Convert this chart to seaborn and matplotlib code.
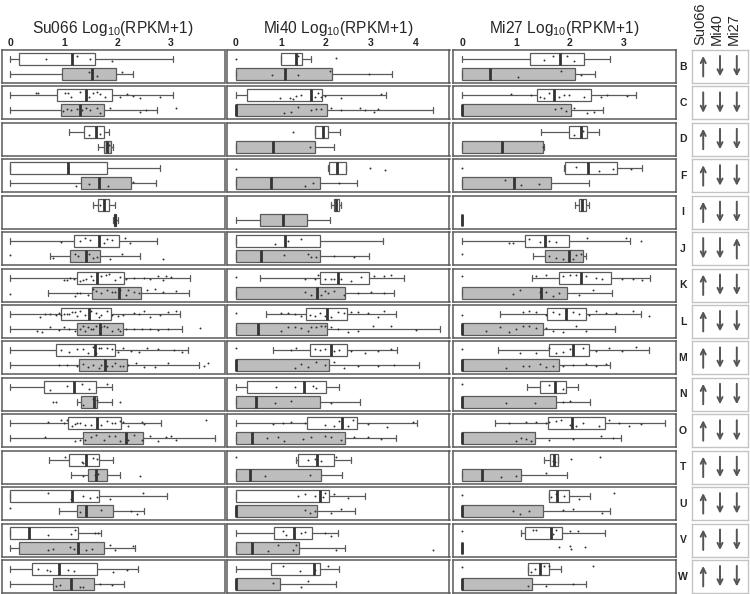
import numpy as np
import pandas as pd
import matplotlib
matplotlib.use("Agg")
import matplotlib.pyplot as plt
import seaborn as sns

# ---------------- data ----------------
rows = ['B', 'C', 'D', 'F', 'I', 'J', 'K', 'L', 'M', 'N', 'O', 'T', 'U', 'V', 'W']
samples = ['Su066', 'Mi40', 'Mi27']
tick_values = [[0, 1, 2, 3], [0, 1, 2, 3, 4], [0, 1, 2, 3]]

# five-number summaries per row: [lower whisker, Q1, median, Q3, upper whisker]
su066_white = [[0, 0.17, 1.16, 1.58, 3.03], [0, 0.88, 1.41, 1.90, 3.03], [1.09, 1.37, 1.59, 1.74, 1.85],
               [0, 0, 1.08, 1.80, 2.79], [1.54, 1.64, 1.75, 1.85, 1.95], [0, 1.18, 1.65, 2.03, 2.74],
               [0, 1.24, 1.62, 2.12, 3.35], [0, 0.95, 1.47, 1.87, 3.17], [0, 0.85, 1.58, 1.95, 3.32],
               [0, 0.63, 1.19, 1.60, 1.90], [0, 1.08, 1.61, 2.06, 2.81], [0.73, 1.10, 1.42, 1.65, 1.92],
               [0, 0, 1.16, 1.65, 2.92], [0, 0, 0.35, 1.27, 1.69], [0, 0.40, 0.91, 1.62, 2.39]]
su066_grey = [[0, 0.96, 1.53, 1.97, 2.29], [0, 0.95, 1.30, 1.74, 2.73], [1.64, 1.75, 1.81, 1.87, 1.92],
              [0, 1.31, 1.65, 2.25, 2.71], [1.92, 1.94, 1.96, 1.98, 2.00], [0.75, 1.11, 1.41, 1.67, 2.42],
              [0.71, 1.52, 2.03, 2.44, 3.34], [0, 1.25, 1.67, 2.10, 3.21], [0, 1.28, 1.77, 2.18, 3.52],
              [1.25, 1.32, 1.57, 1.61, 1.90], [0, 1.36, 2.15, 2.48, 3.82], [1.14, 1.45, 1.60, 1.81, 2.05],
              [0.91, 1.25, 1.41, 1.92, 2.49], [0, 0.17, 1.27, 1.74, 2.33], [0, 0.80, 1.13, 1.56, 2.12]]
mi40_white = [[1.01, 1.01, 1.33, 1.47, 1.66], [0, 0.25, 1.68, 1.92, 3.34], [1.76, 1.76, 1.94, 2.04, 2.31],
              [2.04, 2.06, 2.24, 2.44, 2.44], [2.12, 2.17, 2.23, 2.29, 2.34], [0, 0, 1.10, 1.88, 3.26],
              [0.53, 1.87, 2.27, 2.97, 3.74], [0.66, 1.56, 2.02, 2.46, 3.57], [0.83, 1.64, 2.12, 2.46, 3.58],
              [0, 0.24, 1.51, 2.01, 2.30], [0, 1.58, 2.35, 2.69, 4.02], [1.34, 1.39, 1.80, 2.18, 2.56],
              [0, 0, 1.87, 2.08, 2.86], [0, 0.85, 1.29, 1.69, 2.27], [0, 0.79, 1.73, 1.88, 2.29]]
mi40_grey = [[0, 0, 1.10, 2.13, 3.46], [0, 0, 0, 2.02, 4.39], [0, 0, 0.83, 1.76, 2.19],
             [0, 0, 0.77, 1.86, 2.69], [0, 0.53, 1.05, 1.57, 2.09], [0, 0, 0.55, 1.87, 2.97],
             [0, 0, 1.80, 2.43, 3.52], [0, 0, 0.48, 2.02, 4.54], [0, 0, 0, 2.06, 4.07],
             [0, 0, 0.44, 1.87, 2.76], [0, 0, 0.35, 2.43, 3.57], [0, 0, 0.31, 1.90, 2.35],
             [0, 0, 0, 1.80, 2.65], [0, 0, 0.36, 1.40, 2.43], [0, 0, 0, 0.97, 2.23]]
mi27_white = [[0, 1.27, 1.82, 2.26, 2.75], [0, 1.40, 1.70, 2.40, 3.23], [1.47, 1.98, 2.21, 2.33, 2.55],
              [1.90, 1.92, 2.34, 2.89, 3.34], [2.10, 2.17, 2.23, 2.30, 2.36], [0, 1.17, 1.55, 1.98, 3.12],
              [1.30, 1.81, 2.22, 2.77, 3.49], [0.71, 1.58, 1.94, 2.31, 3.32], [0.67, 1.61, 2.06, 2.36, 3.48],
              [1.20, 1.44, 1.72, 1.94, 2.15], [0.62, 1.59, 2.04, 2.66, 3.78], [1.53, 1.64, 1.70, 1.78, 1.78],
              [1.61, 1.61, 1.76, 1.98, 2.38], [1.10, 1.17, 1.65, 1.86, 2.65], [1.22, 1.22, 1.44, 1.61, 1.83]]
mi27_grey = [[0, 0, 0.51, 2.10, 2.47], [0, 0, 0, 2.02, 2.62], [0, 0, 0.75, 1.51, 1.53],
             [0, 0, 0.96, 1.65, 2.36], [0, 0, 0, 0, 0], [1.31, 1.54, 1.99, 2.24, 2.30],
             [0, 0, 1.47, 1.95, 2.78], [0, 0, 0, 1.51, 2.84], [0, 0, 0, 1.80, 2.75],
             [0, 0, 0, 1.75, 2.38], [0, 0, 0, 1.36, 2.95], [0, 0, 0.37, 1.10, 1.96],
             [0, 0, 0, 1.51, 2.75], [0, 0, 0, 0, 0], [0, 0, 0, 1.30, 2.31]]

# individual gene values (dots)
su066_white_pts = [[0.67, 1.16, 1.25, 1.48, 1.9],
                   [0.48, 0.52, 1.02, 1.08, 1.14, 1.30, 1.47, 1.55, 1.61, 1.67, 1.77, 2.05, 2.17, 2.29, 2.42, 2.79],
                   [1.46, 1.67], [1.08], [1.67],
                   [0.95, 1.30, 1.39, 1.49, 1.74, 1.80, 1.89, 2.14, 2.23],
                   [1.0, 1.05, 1.12, 1.18, 1.3, 1.35, 1.42, 1.5, 1.55, 1.7, 1.78, 1.85, 1.95, 2.05, 2.15, 2.3, 2.5, 2.6, 2.75, 2.85, 2.9, 3.0],
                   [0.55, 0.65, 0.75, 0.85, 0.9, 0.95, 1.0, 1.05, 1.1, 1.15, 1.2, 1.25, 1.3, 1.4, 1.5, 1.6, 1.65, 1.7, 1.8, 1.9, 2.0, 2.1, 2.3, 2.4, 2.5, 2.6, 2.8, 2.95, 3.1],
                   [0.95, 1.1, 1.25, 1.35, 1.45, 1.55, 1.6, 1.65, 1.7, 1.8, 1.9, 2.0, 2.1, 2.25, 2.4, 2.55, 2.75, 3.05, 3.2],
                   [0.74, 1.05, 1.33, 1.46, 1.80],
                   [0.7, 0.95, 1.0, 1.05, 1.15, 1.2, 1.25, 1.3, 1.4, 1.5, 1.7, 1.8, 1.9, 1.95, 2.05, 2.1, 2.2, 2.45, 2.5, 3.66],
                   [1.02, 1.33, 1.36, 1.55, 1.61],
                   [0.71, 1.14, 1.36, 1.49, 1.61, 1.86, 2.48],
                   [0.71, 1.14, 1.21, 1.58, 1.64],
                   [0.52, 0.68, 0.74, 1.08, 1.18, 1.92, 2.17]]
su066_grey_pts = [[1.46, 1.52, 1.61, 2.08],
                  [0.99, 1.05, 1.14, 1.24, 1.33, 1.41, 1.49, 1.61, 1.67, 1.86, 2.42, 2.54, 3.10],
                  [1.80, 1.85], [1.23, 1.47, 1.82, 2.29], [1.96],
                  [0.0, 0.80, 1.21, 1.27, 1.46, 1.55, 1.61, 1.86, 2.08, 2.85],
                  [0.0, 1.2, 1.25, 1.3, 1.45, 1.55, 1.6, 1.7, 1.8, 1.9, 1.95, 2.05, 2.15, 2.2, 2.3, 2.4, 2.55, 2.7, 2.85, 3.1],
                  [0.5, 0.6, 0.75, 0.9, 1.0, 1.1, 1.2, 1.3, 1.35, 1.4, 1.45, 1.5, 1.55, 1.6, 1.7, 1.75, 1.8, 1.9, 2.0, 2.05, 2.15, 2.3, 2.45, 2.6, 2.75, 2.95, 3.53],
                  [0.9, 1.05, 1.25, 1.35, 1.45, 1.55, 1.65, 1.7, 1.8, 1.9, 1.95, 2.05, 2.1, 2.2, 2.35, 2.5, 2.7, 2.95, 3.61, 3.69],
                  [0.80, 0.86, 1.36, 1.55, 1.61, 2.05],
                  [0.65, 1.2, 1.3, 1.4, 1.5, 1.6, 1.75, 1.85, 1.95, 2.05, 2.2, 2.3, 2.45, 2.6, 2.75, 2.9, 3.0, 3.1],
                  [1.36, 1.58, 1.64, 2.42],
                  [0.0, 1.30, 1.42, 1.70, 2.26, 2.36],
                  [0.71, 0.80, 1.11, 1.18, 1.42, 1.52, 1.86, 1.95, 2.29],
                  [0.86, 0.93, 1.30, 1.36, 1.67, 1.89]]
mi40_white_pts = [[0.0, 1.33, 1.39, 2.23],
                  [0.97, 1.20, 1.27, 1.34, 1.45, 1.75, 1.82, 1.90, 1.97, 2.34, 3.23],
                  [1.27, 1.94], [0.0, 2.24, 2.99, 3.32], [2.23],
                  [0.86, 1.16, 1.45],
                  [0.0, 1.53, 1.75, 1.82, 1.97, 2.12, 2.19, 2.34, 2.56, 2.78, 3.08, 3.30, 3.45],
                  [0.0, 1.01, 1.16, 1.31, 1.45, 1.64, 1.75, 1.86, 1.97, 2.12, 2.27, 2.41, 2.56, 2.71, 2.93, 3.15, 3.30],
                  [0.0, 1.23, 1.34, 1.75, 1.86, 1.97, 2.19, 2.30, 2.56, 2.86, 3.15, 3.45],
                  [0.90, 1.31, 1.71, 1.79],
                  [0.83, 1.05, 1.23, 1.53, 1.97, 2.19, 2.30, 2.49, 2.60, 2.93, 3.37, 3.93],
                  [0.0, 1.60, 1.75, 1.90, 2.23],
                  [1.38, 1.53, 1.75, 1.93, 1.97, 2.19, 2.49],
                  [1.05, 1.12, 1.45, 1.53, 1.97, 2.12],
                  [1.05, 1.42, 1.75, 2.04]]
mi40_grey_pts = [[0.80, 1.39, 2.10, 2.97],
                 [1.08, 1.23, 1.38, 1.68, 1.79, 1.90, 2.12, 2.34, 2.75, 2.86, 3.08, 3.15],
                 [1.64], [1.53, 1.71, 2.30], [],
                 [1.08, 1.60, 1.68, 1.79, 2.19, 2.63],
                 [1.53, 1.68, 1.90, 1.97, 2.04, 2.19, 2.41, 2.71, 3.00, 3.30],
                 [1.01, 1.16, 1.31, 1.45, 1.60, 1.68, 1.79, 1.90, 1.97, 2.12, 2.27, 2.49, 2.71, 3.04, 3.45, 4.0],
                 [1.31, 1.45, 1.60, 1.79, 1.97, 2.19, 2.41, 2.71, 3.15, 3.52],
                 [0.86, 1.23, 2.12],
                 [0.68, 0.94, 1.08, 1.49, 1.68, 1.97, 2.12, 2.34, 2.63, 2.93, 3.23],
                 [0.64, 1.64],
                 [1.53, 1.64, 1.75, 2.12, 2.34],
                 [0.72, 0.94, 1.27, 1.34, 2.23, 4.38],
                 [0.83, 1.45, 1.60]]
mi27_white_pts = [[1.53, 1.69, 1.96, 2.09],
                  [0.91, 1.28, 1.44, 1.53, 1.62, 1.81, 1.90, 1.99, 2.27, 2.58, 2.70, 3.07],
                  [2.09, 2.24], [0.0, 2.12, 2.55, 2.80, 3.14], [2.23],
                  [0.88, 0.94, 1.25, 1.44, 1.62, 1.75, 2.33, 3.04, 3.32],
                  [0.0, 1.38, 1.56, 1.87, 2.0, 2.12, 2.30, 2.49, 2.61, 2.98, 3.17, 3.35],
                  [0.0, 1.13, 1.25, 1.38, 1.56, 1.69, 1.81, 1.93, 2.06, 2.18, 2.36, 2.49, 2.67, 2.86, 3.17, 3.48],
                  [0.0, 1.07, 1.38, 1.62, 1.75, 1.87, 2.0, 2.24, 2.49, 2.73, 2.98, 3.23],
                  [0.0, 1.62, 1.87],
                  [0.88, 1.19, 1.38, 1.56, 1.62, 1.75, 1.84, 2.0, 2.12, 2.24, 2.55, 2.73, 2.92, 3.10, 3.32],
                  [1.69, 1.72, 2.02, 2.56],
                  [0.0, 1.65, 1.75, 1.90, 2.18, 2.83],
                  [0.0, 1.31, 1.38, 1.69, 1.75, 2.0, 2.15],
                  [0.0, 1.28, 1.35, 1.53, 1.62, 2.44]]
mi27_grey_pts = [[1.04, 1.84, 2.21],
                 [1.72, 1.84, 1.93, 2.09, 2.33, 2.46],
                 [1.51], [0.79, 1.10, 1.43], [],
                 [0.0, 1.62, 1.75, 1.87, 2.06, 2.12, 2.21],
                 [0.94, 1.07, 1.44, 1.56, 1.69, 1.81, 2.18, 2.43],
                 [0.45, 0.70, 0.88, 1.01, 1.13, 1.25, 1.38, 1.56, 1.69, 1.87, 2.12, 2.30],
                 [0.82, 1.13, 1.25, 1.44, 1.56, 1.69, 1.87, 2.06, 2.30, 2.49, 2.67],
                 [0.82, 1.35, 1.87, 2.0],
                 [1.01, 1.10, 1.19, 1.28, 1.62, 2.06, 2.58, 2.80],
                 [0.73, 1.01, 1.56],
                 [0.94, 1.07, 1.25, 1.87, 2.06, 2.61],
                 [1.81, 2.0, 2.02, 2.29],
                 [1.22, 1.56, 2.06]]

# direction of change (grey vs white): +1 up, -1 down
su066_dir = [1, -1, 1, 1, 1, -1, 1, 1, 1, 1, 1, 1, 1, 1, 1]
mi40_dir = [-1] * 15
mi27_dir = [-1, -1, -1, -1, -1, 1, -1, -1, -1, -1, -1, -1, -1, -1, -1]

# ---------------- layout ----------------
W, H = 750, 594
sns.set_style("white")
plt.rcParams['font.family'] = ['Liberation Sans', 'DejaVu Sans']
plt.rcParams['mathtext.default'] = 'regular'

fig = plt.figure(figsize=(W / 100, H / 100), dpi=100)


def add_ax(left, top, w, h):
    return fig.add_axes([left / W, 1 - (top + h) / H, w / W, h / H])


col_left = [1.5, 226.5, 452.5]
col_w = 223
xlims = [(-0.164, 3.996), (-0.21, 4.75), (-0.18, 3.97)]
row_top0, row_step, row_h = 50, 36.43, 33

white_boxes = [su066_white, mi40_white, mi27_white]
grey_boxes = [su066_grey, mi40_grey, mi27_grey]
white_pts = [su066_white_pts, mi40_white_pts, mi27_white_pts]
grey_pts = [su066_grey_pts, mi40_grey_pts, mi27_grey_pts]
dirs = [su066_dir, mi40_dir, mi27_dir]

edge = '#5a5a5a'
pal = {'w': 'white', 'g': '#bdbdbd'}

for c in range(3):
    for r, lab in enumerate(rows):
        top = row_top0 + row_step * r
        ax = add_ax(col_left[c], top, col_w, row_h)
        box_df = pd.DataFrame({
            'val': list(white_boxes[c][r]) + list(grey_boxes[c][r]),
            'grp': ['w'] * 5 + ['g'] * 5})
        sns.boxplot(data=box_df, x='val', y='grp', hue='grp', order=['w', 'g'],
                    hue_order=['w', 'g'], palette=pal, saturation=1, whis=(0, 100),
                    showfliers=False, width=0.8, linecolor=edge, linewidth=0.9,
                    medianprops=dict(color='#333333', linewidth=2.0),
                    legend=False, ax=ax)
        pv = list(white_pts[c][r]) + list(grey_pts[c][r])
        pg = ['w'] * len(white_pts[c][r]) + ['g'] * len(grey_pts[c][r])
        if pv:
            pts_df = pd.DataFrame({'val': pv, 'grp': pg})
            sns.stripplot(data=pts_df, x='val', y='grp', order=['w', 'g'],
                          color='#333333', size=1.4, jitter=0.22, linewidth=0,
                          ax=ax)
        ax.set_xlim(*xlims[c])
        ax.set_ylim(1.6, -0.6)
        ax.set_xlabel('')
        ax.set_ylabel('')
        ax.set_yticks([])
        for s in ax.spines.values():
            s.set_color(edge)
            s.set_linewidth(1.1)
        if r == 0:
            ax.set_xticks(tick_values[c])
            ax.set_xticklabels([str(t) for t in tick_values[c]], fontweight='bold')
            ax.xaxis.set_ticks_position('top')
            ax.tick_params(axis='x', length=0, pad=1.5, labelsize=7.5)
        else:
            ax.set_xticks([])

    # column title
    cx = (col_left[c] + col_w / 2) / W
    fig.text(cx, 1 - 33 / H, samples[c] + ' Log$_{10}$(RPKM+1)', ha='center',
             va='baseline', fontsize=11.2)

# row letters and arrow panels
arrow_x = [0.2, 0.5, 0.8]
for r, lab in enumerate(rows):
    top = row_top0 + row_step * r
    fig.text(683 / W, 1 - (top + row_h / 2) / H, lab, ha='center', va='center',
             fontsize=7.5, fontweight='bold')
    ax = add_ax(692, top, 56, row_h)
    ax.set_xlim(0, 1)
    ax.set_ylim(0, 1)
    ax.set_xticks([])
    ax.set_yticks([])
    for s in ax.spines.values():
        s.set_color('#c4c4c4')
        s.set_linewidth(1.0)
    for k in range(3):
        d = dirs[k][r]
        y0, y1 = (0.2, 0.82) if d > 0 else (0.82, 0.2)
        ax.annotate('', xy=(arrow_x[k], y1), xytext=(arrow_x[k], y0),
                    arrowprops=dict(arrowstyle='->', lw=1.4, color='#555555',
                                    mutation_scale=9, shrinkA=0, shrinkB=0))

for k, name in enumerate(samples):
    fig.text((692 + 56 * arrow_x[k]) / W - 0.004, 1 - 45 / H, name, rotation=90,
             ha='center', va='bottom', fontsize=10.5)

fig.savefig('out.png', dpi=100)
